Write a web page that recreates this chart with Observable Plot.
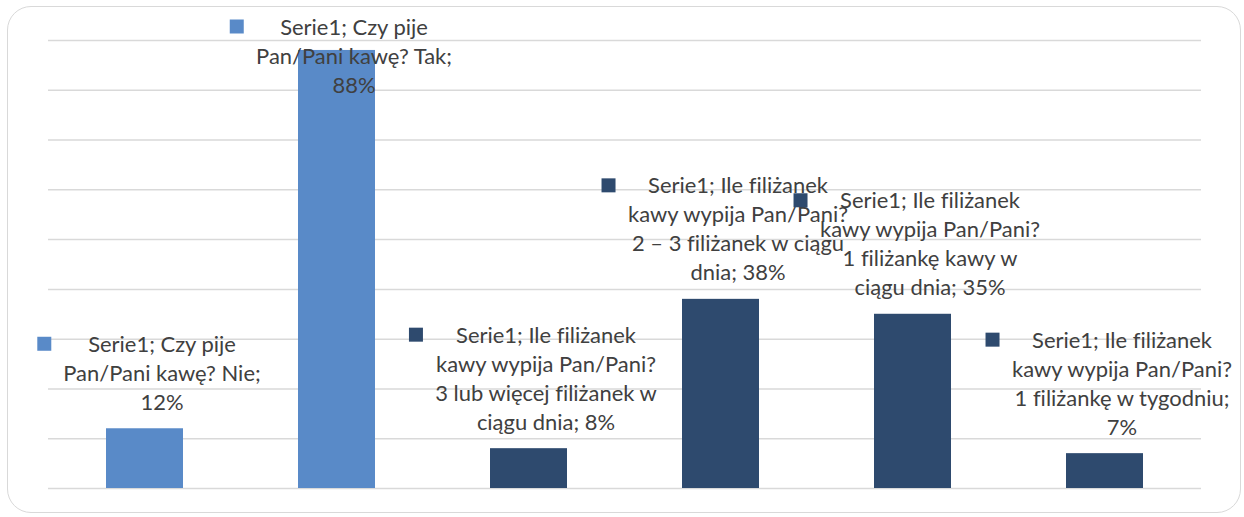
<!DOCTYPE html>
<html><head><meta charset="utf-8">
<script src="https://cdn.jsdelivr.net/npm/d3@7"></script>
<script src="https://cdn.jsdelivr.net/npm/@observablehq/plot@0.6"></script>
<style>
html,body{margin:0;padding:0;background:#fff;}
#wrap{position:relative;width:1244px;height:517px;overflow:hidden;}
#frame{position:absolute;left:7px;top:6px;width:1234px;height:507px;border:1.5px solid #d9d9d9;border-radius:24px;box-sizing:border-box;}
#chart{position:absolute;left:0;top:0;}
#chart svg text{font-variant-ligatures:none;font-feature-settings:"liga" 0,"clig" 0;}
</style></head><body>
<div id="wrap"><div id="frame"></div><div id="chart"></div></div>
<script>
// ---- data ----
const categories = [
  "Czy pije Pan/Pani kawę? Nie",
  "Czy pije Pan/Pani kawę? Tak",
  "Ile filiżanek kawy wypija Pan/Pani? 3 lub więcej filiżanek w ciągu dnia",
  "Ile filiżanek kawy wypija Pan/Pani? 2 – 3 filiżanek w ciągu dnia",
  "Ile filiżanek kawy wypija Pan/Pani? 1 filiżankę kawy w ciągu dnia",
  "Ile filiżanek kawy wypija Pan/Pani? 1 filiżankę w tygodniu"
];
const values = [12, 88, 8, 38, 35, 7];
const groups = ["Czy pije", "Czy pije", "Ile filiżanek", "Ile filiżanek", "Ile filiżanek", "Ile filiżanek"];
const labels = [
  "Serie1; Czy pije\nPan/Pani kawę? Nie;\n12%",
  "Serie1; Czy pije\nPan/Pani kawę? Tak;\n88%",
  "Serie1; Ile filiżanek\nkawy wypija Pan/Pani?\n3 lub więcej filiżanek w\nciągu dnia; 8%",
  "Serie1; Ile filiżanek\nkawy wypija Pan/Pani?\n2 – 3 filiżanek w ciągu\ndnia; 38%",
  "Serie1; Ile filiżanek\nkawy wypija Pan/Pani?\n1 filiżankę kawy w\nciągu dnia; 35%",
  "Serie1; Ile filiżanek\nkawy wypija Pan/Pani?\n1 filiżankę w tygodniu;\n7%"
];
const yTicks = [0, 10, 20, 30, 40, 50, 60, 70, 80, 90];
const groupColors = ["#598AC8", "#2E4A6E"];

// ---- layout ----
const W = 1244, H = 517, mT = 40, mB = 29, mL = 48, mR = 43;
const yMax = 90;
const ppu = (H - mT - mB) / yMax;
const lineH = 29;
const family = "Lato";
const ctx = document.createElement("canvas").getContext("2d");
ctx.font = `21px ${family}`;
let fs = 21 * 221 / ctx.measureText("kawy wypija Pan/Pani?").width;
fs = Math.max(18, Math.min(24, fs));
ctx.font = `${fs}px ${family}`;

const data = categories.map((c, i) => {
  const lines = labels[i].split("\n");
  const n = lines.length;
  const widest = d3.max(lines, l => ctx.measureText(l).width);
  // keep label block inside the plot area (Excel-style clamping)
  const maxV = yMax - ((n - 1) * lineH - 6 + 19) / ppu;
  return {cat: c, value: values[i], group: groups[i], label: labels[i], n, widest, labelY: Math.min(values[i], maxV)};
});

const textDx = 17, textDy = -19;

const marks = [
  Plot.ruleY(yTicks, {stroke: "#d9d9d9", strokeWidth: 1.5}),
  Plot.barY(data, {x: "cat", y: "value", fill: "group"}),
  Plot.text(data, {
    x: "cat", y: "labelY", text: "label", lineAnchor: "bottom", textAnchor: "middle",
    dx: textDx, dy: textDy, fontSize: fs, lineHeight: lineH / fs, fill: "#404040"
  }),
  ...data.map(d => Plot.dot([d], {
    x: "cat", y: "labelY", symbol: "square", r: 14 / Math.sqrt(Math.PI), fill: "group", stroke: null,
    dx: textDx - d.widest / 2 - 19, dy: textDy - (d.n - 1) * lineH - 8
  }))
];

const chart = Plot.plot({
  width: W, height: H,
  marginTop: mT, marginBottom: mB, marginLeft: mL, marginRight: mR,
  x: {domain: categories, paddingInner: 0.6, paddingOuter: 0.3, axis: null},
  y: {domain: [0, yMax], axis: null},
  color: {domain: ["Czy pije", "Ile filiżanek"], range: groupColors},
  style: {background: "transparent", fontFamily: family, overflow: "visible"},
  marks
});
document.getElementById("chart").appendChild(chart);
</script>
</body></html>
